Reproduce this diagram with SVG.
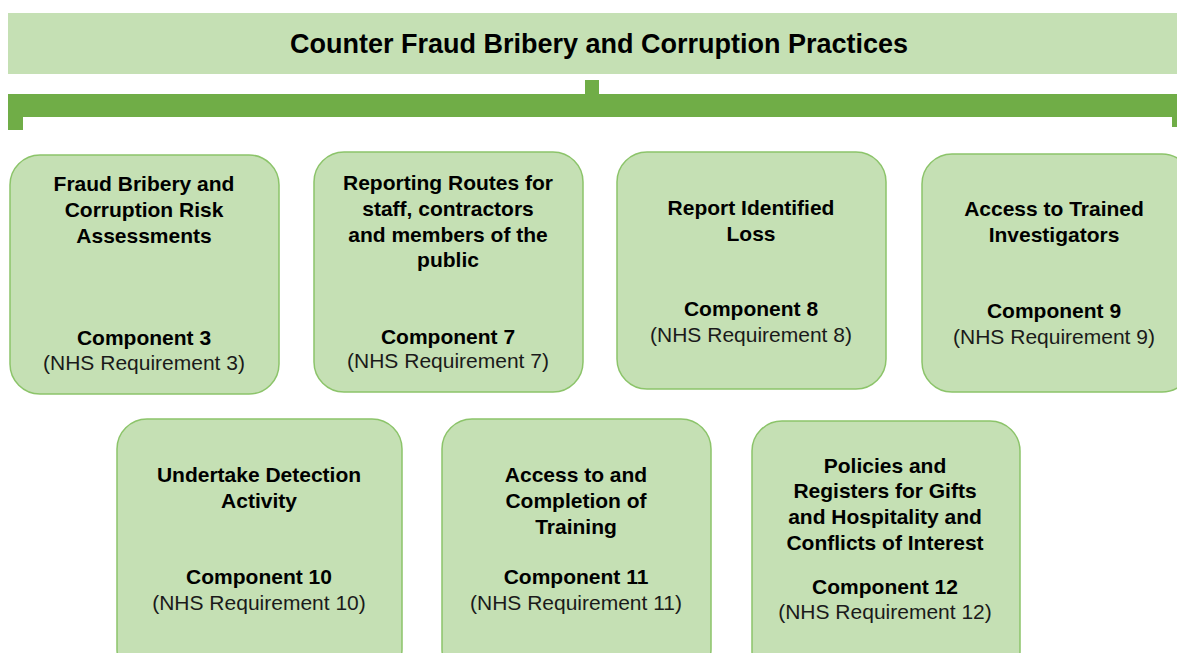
<svg xmlns="http://www.w3.org/2000/svg" width="1177" height="653" viewBox="0 0 1177 653">
<style>
.box{fill:#c5e0b4;stroke:#8cc46a;stroke-width:1.5}
.bar{fill:#70ad47}
text{font-family:"Liberation Sans",Arial,sans-serif;fill:#000;text-anchor:middle}
.t{font-size:21px;font-weight:bold}
.c{font-size:21px;font-weight:bold}
.r{font-size:21px;fill:#1a1a1a}
.title{font-size:27px;font-weight:bold}
</style>
<rect width="1177" height="653" fill="#fff"/>
<g id="title">
<rect x="8" y="13" width="1175" height="61" fill="#c5e0b4"/>
<text class="title" x="599" y="53">Counter Fraud Bribery and Corruption Practices</text>
</g>
<g id="connectors">
<rect class="bar" x="585" y="80" width="14" height="16"/>
<rect class="bar" x="8" y="94" width="1175" height="23"/>
<rect class="bar" x="8" y="116" width="15" height="14"/>
<rect class="bar" x="1172" y="116" width="6" height="11"/>
</g>
<g id="n3">
<rect class="box" x="10" y="155" width="269" height="239" rx="30"/>
<text class="t" x="144" y="191">Fraud Bribery and</text>
<text class="t" x="144" y="217">Corruption Risk</text>
<text class="t" x="144" y="243">Assessments</text>
<text class="c" x="144" y="345">Component 3</text>
<text class="r" x="144" y="370">(NHS Requirement 3)</text>
</g>
<g id="n7">
<rect class="box" x="314" y="152" width="269" height="240" rx="30"/>
<text class="t" x="448" y="190">Reporting Routes for</text>
<text class="t" x="448" y="216">staff, contractors</text>
<text class="t" x="448" y="242">and members of the</text>
<text class="t" x="448" y="267">public</text>
<text class="c" x="448" y="344">Component 7</text>
<text class="r" x="448" y="368">(NHS Requirement 7)</text>
</g>
<g id="n8">
<rect class="box" x="617" y="152" width="269" height="237" rx="30"/>
<text class="t" x="751" y="215">Report Identified</text>
<text class="t" x="751" y="241">Loss</text>
<text class="c" x="751" y="316">Component 8</text>
<text class="r" x="751" y="342">(NHS Requirement 8)</text>
</g>
<g id="n9">
<rect class="box" x="922" y="154" width="270" height="238" rx="30"/>
<text class="t" x="1054" y="216">Access to Trained</text>
<text class="t" x="1054" y="242">Investigators</text>
<text class="c" x="1054" y="318">Component 9</text>
<text class="r" x="1054" y="344">(NHS Requirement 9)</text>
</g>
<g id="n10">
<rect class="box" x="117" y="419" width="285" height="260" rx="30"/>
<text class="t" x="259" y="482">Undertake Detection</text>
<text class="t" x="259" y="508">Activity</text>
<text class="c" x="259" y="584">Component 10</text>
<text class="r" x="259" y="610">(NHS Requirement 10)</text>
</g>
<g id="n11">
<rect class="box" x="442" y="419" width="269" height="260" rx="30"/>
<text class="t" x="576" y="482">Access to and</text>
<text class="t" x="576" y="508">Completion of</text>
<text class="t" x="576" y="534">Training</text>
<text class="c" x="576" y="584">Component 11</text>
<text class="r" x="576" y="610">(NHS Requirement 11)</text>
</g>
<g id="n12">
<rect class="box" x="752" y="421" width="268" height="260" rx="30"/>
<text class="t" x="885" y="473">Policies and</text>
<text class="t" x="885" y="498">Registers for Gifts</text>
<text class="t" x="885" y="524">and Hospitality and</text>
<text class="t" x="885" y="550">Conflicts of Interest</text>
<text class="c" x="885" y="594">Component 12</text>
<text class="r" x="885" y="619">(NHS Requirement 12)</text>
</g>
</svg>
